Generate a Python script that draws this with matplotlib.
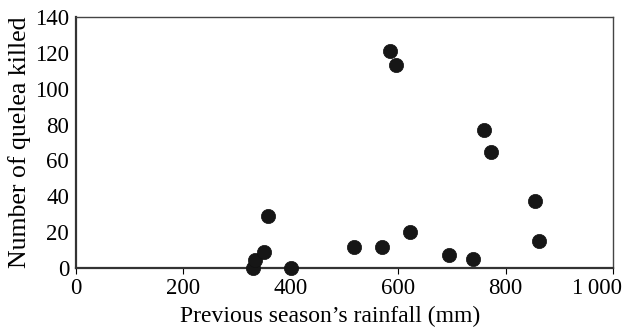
import matplotlib.pyplot as plt
from matplotlib.transforms import ScaledTranslation

# rainfall (mm) and number of quelea killed
rainfall = [330, 333, 350, 357, 400, 518, 570, 585, 596, 622, 695, 740, 759, 773, 855, 862]
killed = [0, 4.5, 9, 29, 0, 11.5, 11.5, 121, 113, 20, 7, 5, 77, 65, 37.5, 15]

x_ticks = [0, 200, 400, 600, 800, 1000]
x_labels = ["0", "200", "400", "600", "800", "1\u2009000"]
y_ticks = [0, 20, 40, 60, 80, 100, 120, 140]

plt.rcParams['font.family'] = ['Liberation Serif', 'DejaVu Serif']

fig = plt.figure(figsize=(6.25, 3.29), dpi=100)
ax = fig.add_axes([0.1216, 0.1854, 0.8594, 0.7626])

ax.scatter(rainfall, killed, s=105, color='#161616', edgecolors='#111111',
           linewidths=0.5, zorder=3, clip_on=False)

ax.set_xlim(0, 1000)
ax.set_ylim(0, 140)
ax.set_xticks(x_ticks)
ax.set_xticklabels(x_labels)
ax.set_yticks(y_ticks)

ax.tick_params(axis='x', direction='out', length=4, width=0.8, labelsize=16.5, pad=3)
ax.tick_params(axis='y', length=0, labelsize=16.5, pad=5)

# last label sits a bit left of its tick, as in the print
last = ax.get_xticklabels()[-1]
last.set_transform(last.get_transform() + ScaledTranslation(-16 / 100, 0, fig.dpi_scale_trans))

for side in ['top', 'right']:
    ax.spines[side].set_linewidth(1.0)
    ax.spines[side].set_color('#444444')
for side in ['left', 'bottom']:
    ax.spines[side].set_linewidth(1.6)
    ax.spines[side].set_color('#333333')

ax.set_xlabel("Previous season\u2019s rainfall (mm)", fontsize=17, labelpad=5.5)
ax.xaxis.label.set_x(0.473)
ax.set_ylabel("Number of quelea killed", fontsize=18.5, labelpad=3)

fig.savefig('out.png', dpi=100)
